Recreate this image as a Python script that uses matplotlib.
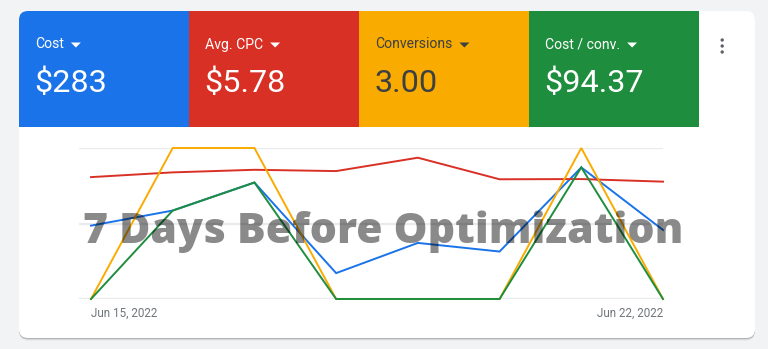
import matplotlib
matplotlib.use("Agg")
import matplotlib.pyplot as plt
from matplotlib.patches import FancyBboxPatch, Rectangle, Polygon
from matplotlib.transforms import Affine2D

W, H = 768, 349

# ---- data ----
dates = ["Jun 15, 2022", "Jun 16, 2022", "Jun 17, 2022", "Jun 18, 2022",
         "Jun 19, 2022", "Jun 20, 2022", "Jun 21, 2022", "Jun 22, 2022"]
cost = [34, 41, 54, 12, 26, 22, 61, 32]
avg_cpc = [5.65, 5.87, 5.99, 5.93, 6.55, 5.55, 5.56, 5.44]
conversions = [0, 1, 1, 0, 0, 0, 1, 0]
cost_per_conv = [0, 41, 54, 0, 0, 0, 61, 0]

metric_labels = ["Cost", "Avg. CPC", "Conversions", "Cost / conv."]
metric_values = ["$283", "$5.78", "3.00", "$94.37"]
metric_colors = ["#1a73e8", "#d93025", "#f9ab00", "#1e8e3e"]
metric_text = ["white", "white", "#3c4043", "white"]
axis_max = [70, 7, 1, 70]
watermark = "7 Days Before Optimization"

fig = plt.figure(figsize=(W / 100, H / 100), dpi=100)
fig.patch.set_facecolor("#f1f3f4")

# pixel transform: (x from left, y from top) in pixels
px = Affine2D().scale(1, -1).translate(0, H).scale(1 / W, 1 / H) + fig.transFigure

# card shadow + card
for off, a in [(2.5, 0.06), (1.5, 0.10), (0.8, 0.14)]:
    sh = FancyBboxPatch((19, 11 + off), 736, 327, boxstyle="round,pad=0,rounding_size=9",
                        transform=px, facecolor="black", edgecolor="none", alpha=a, zorder=0)
    fig.patches.append(sh)
card = FancyBboxPatch((19, 11), 736, 327, boxstyle="round,pad=0,rounding_size=9",
                      transform=px, facecolor="white", edgecolor="none", zorder=1)
fig.patches.append(card)

# metric tiles
tile_x = [19, 189, 359, 529]
tile_w = 170
renderer = fig.canvas.get_renderer()
for i in range(4):
    r = Rectangle((tile_x[i], 11), tile_w, 116, transform=px,
                  facecolor=metric_colors[i], edgecolor="none", zorder=2)
    fig.patches.append(r)
    r.set_clip_path(card)
    lab = fig.text(tile_x[i] + 16, 44.5, metric_labels[i], transform=px, fontsize=10.1,
                   family="Roboto", color=metric_text[i], ha="left", va="center", zorder=3)
    ext = lab.get_window_extent(renderer=renderer)
    tx = ext.x1 + 7
    tri = Polygon([(tx, 42.5), (tx + 10, 42.5), (tx + 5, 47.5)], closed=True,
                  transform=px, facecolor=metric_text[i], edgecolor="none", zorder=3)
    fig.patches.append(tri)
    fig.text(tile_x[i] + 15, 83.5, metric_values[i], transform=px, fontsize=23.3,
             family="Roboto", color=metric_text[i], ha="left", va="center", zorder=3)

# kebab menu dots
for yy in [40, 46, 52]:
    d = FancyBboxPatch((720.5, yy - 1.7), 3.4, 3.4, boxstyle="round,pad=0,rounding_size=1.7",
                       transform=px, facecolor="#5f6368", edgecolor="none", zorder=3)
    fig.patches.append(d)

# chart axes
left, right, top, bottom = 79, 663, 148, 299
ax = fig.add_axes([left / W, (H - bottom) / H, (right - left) / W, (bottom - top) / H])
ax.set_zorder(5)
ax.patch.set_visible(False)
x = list(range(len(dates)))
step = (663 - 91) / 7.0
xmin = -(91 - 79) / step
series = [cost, avg_cpc, conversions, cost_per_conv]
axes = [ax]
for i in range(1, 4):
    t = ax.twinx()
    t.set_zorder(5 + i)
    t.patch.set_visible(False)
    axes.append(t)
for i, (a, s) in enumerate(zip(axes, series)):
    a.plot(x, s, color=metric_colors[i], lw=1.4, clip_on=False, solid_joinstyle="miter")
    a.set_xlim(xmin, 7)
    a.set_ylim(0, axis_max[i])
    for sp in a.spines.values():
        sp.set_visible(False)
    a.set_yticks([])
    a.tick_params(axis="x", length=0, labelbottom=False)
ax.set_yticks([0, axis_max[0] / 2, axis_max[0]])
ax.tick_params(axis="y", length=0, labelleft=False)
ax.grid(axis="y", color="#e8eaed", lw=1.6)
ax.set_axisbelow(True)
ax.set_xticks([])

fig.text(91, 313, dates[0], transform=px, fontsize=8.4, family="Roboto",
         color="#70757a", ha="left", va="center")
fig.text(663, 313, dates[-1], transform=px, fontsize=8.4, family="Roboto",
         color="#70757a", ha="right", va="center")

# watermark
wm = fig.text(383, 243, watermark, transform=px, fontsize=30, family="Open Sans",
              fontweight="heavy", color="black", alpha=0.46, ha="center", va="baseline",
              zorder=20)
ext = wm.get_window_extent(renderer=renderer)
wm.set_fontsize(30 * 600 / ext.width)

fig.savefig("out.png", dpi=100, facecolor=fig.get_facecolor())
